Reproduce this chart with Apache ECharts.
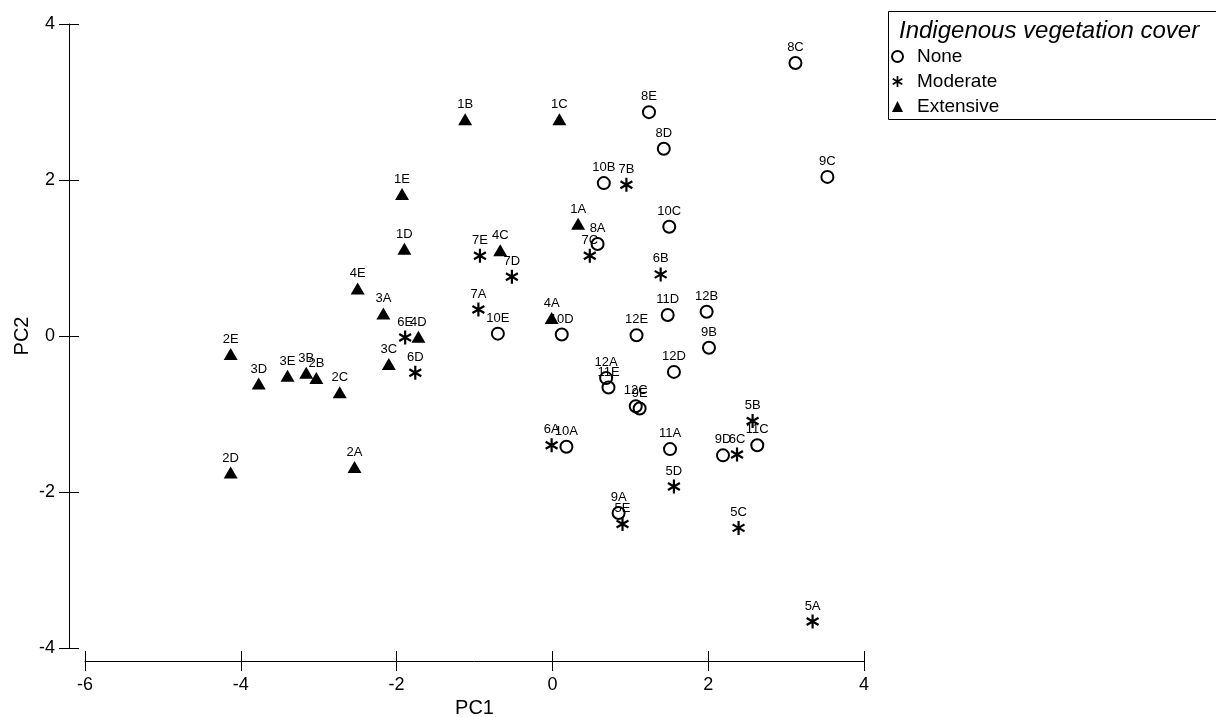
<!DOCTYPE html>
<html>
<head>
<meta charset="utf-8">
<script src="https://cdn.jsdelivr.net/npm/echarts@6/dist/echarts.min.js"></script>
<style>
html,body{margin:0;padding:0;background:#fff;}
#chart{width:1216px;height:717px;}
</style>
</head>
<body>
<div id="chart"></div>
<script>
// ---- Data ----
const xTicks = [-6, -4, -2, 0, 2, 4];
const yTicks = [-4, -2, 0, 2, 4];

const noneNames = ['8A','8C','8D','8E','9A','9B','9C','9D','9E','10A','10B','10C','10D','10E','11A','11C','11D','11E','12A','12B','12C','12D','12E'];
const nonePC1   = [0.58, 3.12, 1.43, 1.24, 0.85, 2.01, 3.53, 2.19, 1.12, 0.18, 0.66, 1.50, 0.12, -0.70, 1.51, 2.63, 1.48, 0.72, 0.69, 1.98, 1.07, 1.56, 1.08];
const nonePC2   = [1.18, 3.50, 2.40, 2.87, -2.27, -0.15, 2.04, -1.53, -0.93, -1.42, 1.96, 1.40, 0.02, 0.03, -1.45, -1.40, 0.27, -0.66, -0.54, 0.31, -0.90, -0.46, 0.01];

const modNames = ['5A','5B','5C','5D','5E','6A','6B','6C','6D','6E','7A','7B','7C','7D','7E'];
const modPC1   = [3.34, 2.57, 2.39, 1.56, 0.90, -0.01, 1.39, 2.37, -1.76, -1.89, -0.95, 0.95, 0.48, -0.52, -0.93];
const modPC2   = [-3.66, -1.09, -2.46, -1.93, -2.41, -1.40, 0.79, -1.52, -0.47, -0.02, 0.34, 1.94, 1.03, 0.76, 1.03];

const extNames = ['1A','1B','1C','1D','1E','2A','2B','2C','2D','2E','3A','3B','3C','3D','3E','4A','4C','4D','4E'];
const extPC1   = [0.33, -1.12, 0.09, -1.90, -1.93, -2.54, -3.03, -2.73, -4.13, -4.13, -2.17, -3.16, -2.10, -3.77, -3.40, -0.01, -0.67, -1.72, -2.50];
const extPC2   = [1.44, 2.78, 2.78, 1.12, 1.82, -1.68, -0.54, -0.72, -1.75, -0.23, 0.29, -0.47, -0.36, -0.61, -0.51, 0.23, 1.10, -0.01, 0.61];

const groupNames = ['None', 'Moderate', 'Extensive'];
const legendTitle = 'Indigenous vegetation cover';
const xName = 'PC1';
const yName = 'PC2';

// ---- Build ----
const FONT = "'Liberation Sans', Arial, Helvetica, sans-serif";
const ASTERISK = 'path://M42,0L58,0L58,100L42,100Z M10.7,18.07L97.3,68.07L89.3,81.93L2.7,31.93Z M2.7,68.07L89.3,18.07L97.3,31.93L10.7,81.93Z';

function pts(names, xs, ys) {
  return names.map((n, i) => ({ name: n, value: [xs[i], ys[i]] }));
}

const labelCfg = {
  show: true,
  position: 'top',
  distance: 2,
  formatter: p => p.name,
  color: '#000',
  fontSize: 13,
  fontFamily: FONT
};

const chart = echarts.init(document.getElementById('chart'), null, { renderer: 'canvas' });

const axisCommon = {
  type: 'value',
  splitLine: { show: false },
  axisLine: { show: true, onZero: false, lineStyle: { color: '#000', width: 1 } },
  axisTick: { show: true, inside: false, length: 10, lineStyle: { color: '#000', width: 1 } },
};

const option = {
  animation: false,
  backgroundColor: '#fff',
  grid: { left: 85, right: 352, top: 24, bottom: 69, containLabel: false, outerBoundsMode: 'none' },
  xAxis: [
    Object.assign({}, axisCommon, {
      min: xTicks[0], max: xTicks[xTicks.length - 1], interval: 2,
      position: 'bottom', offset: 13,
      name: xName, nameLocation: 'middle', nameGap: 37, nameMoveOverlap: false,
      nameTextStyle: { fontSize: 20, color: '#000', fontFamily: FONT },
      axisLabel: { margin: 15, fontSize: 18, color: '#000', fontFamily: FONT }
    }),
    {
      type: 'value', min: xTicks[0], max: xTicks[xTicks.length - 1], interval: 2,
      position: 'bottom', offset: 13,
      splitLine: { show: false }, axisLine: { show: false, onZero: false },
      axisLabel: { show: false },
      axisTick: { show: true, inside: true, length: 10, lineStyle: { color: '#000', width: 1 } }
    }
  ],
  yAxis: [
    Object.assign({}, axisCommon, {
      min: yTicks[0], max: yTicks[yTicks.length - 1], interval: 2,
      position: 'left', offset: 16,
      name: yName, nameLocation: 'middle', nameGap: 37, nameMoveOverlap: false,
      nameTextStyle: { fontSize: 20, color: '#000', fontFamily: FONT },
      axisLabel: { margin: 14, fontSize: 18, color: '#000', fontFamily: FONT }
    }),
    {
      type: 'value', min: yTicks[0], max: yTicks[yTicks.length - 1], interval: 2,
      position: 'left', offset: 16,
      splitLine: { show: false }, axisLine: { show: false, onZero: false },
      axisLabel: { show: false },
      axisTick: { show: true, inside: true, length: 10, lineStyle: { color: '#000', width: 1 } }
    }
  ],
  legend: {
    orient: 'vertical',
    left: 886, top: 42, padding: 5,
    itemWidth: 11, itemHeight: 11, itemGap: 6,
    selectedMode: false,
    textStyle: { fontSize: 19, color: '#000', fontFamily: FONT, padding: [0, 0, 0, 9] },
    data: [
      { name: groupNames[0], icon: 'circle', itemStyle: { color: 'rgba(0,0,0,0)', borderColor: '#000', borderWidth: 2 } },
      { name: groupNames[1], icon: ASTERISK, itemStyle: { color: '#000', borderWidth: 0 } },
      { name: groupNames[2], icon: 'triangle', itemStyle: { color: '#000', borderWidth: 0 } }
    ]
  },
  graphic: [
    {
      type: 'rect', left: 888, top: 11, z: 0,
      shape: { x: 0, y: 0, width: 340, height: 108 },
      style: { fill: '#fff', stroke: '#000', lineWidth: 1 }
    },
    {
      type: 'text', left: 899, top: 19, z: 1,
      style: { text: legendTitle, font: "italic 24px 'Liberation Sans', Arial, sans-serif", fill: '#000' }
    }
  ],
  series: [
    {
      name: groupNames[1], type: 'scatter', z: 2,
      xAxisIndex: 0, yAxisIndex: 0,
      symbol: ASTERISK, symbolSize: [13, 14], symbolKeepAspect: false,
      itemStyle: { color: '#000', borderWidth: 0, opacity: 1 },
      label: labelCfg,
      emphasis: { disabled: true },
      data: pts(modNames, modPC1, modPC2)
    },
    {
      name: groupNames[0], type: 'scatter', z: 3,
      xAxisIndex: 0, yAxisIndex: 0,
      symbol: 'circle', symbolSize: 12,
      itemStyle: { color: 'rgba(0,0,0,0)', borderColor: '#000', borderWidth: 2, opacity: 1 },
      label: labelCfg,
      emphasis: { disabled: true },
      data: pts(noneNames, nonePC1, nonePC2)
    },
    {
      name: groupNames[2], type: 'scatter', z: 4,
      xAxisIndex: 0, yAxisIndex: 0,
      symbol: 'triangle', symbolSize: [14, 12],
      itemStyle: { color: '#000', borderWidth: 0, opacity: 1 },
      label: labelCfg,
      emphasis: { disabled: true },
      data: pts(extNames, extPC1, extPC2)
    }
  ]
};

chart.setOption(option);
</script>
</body>
</html>
